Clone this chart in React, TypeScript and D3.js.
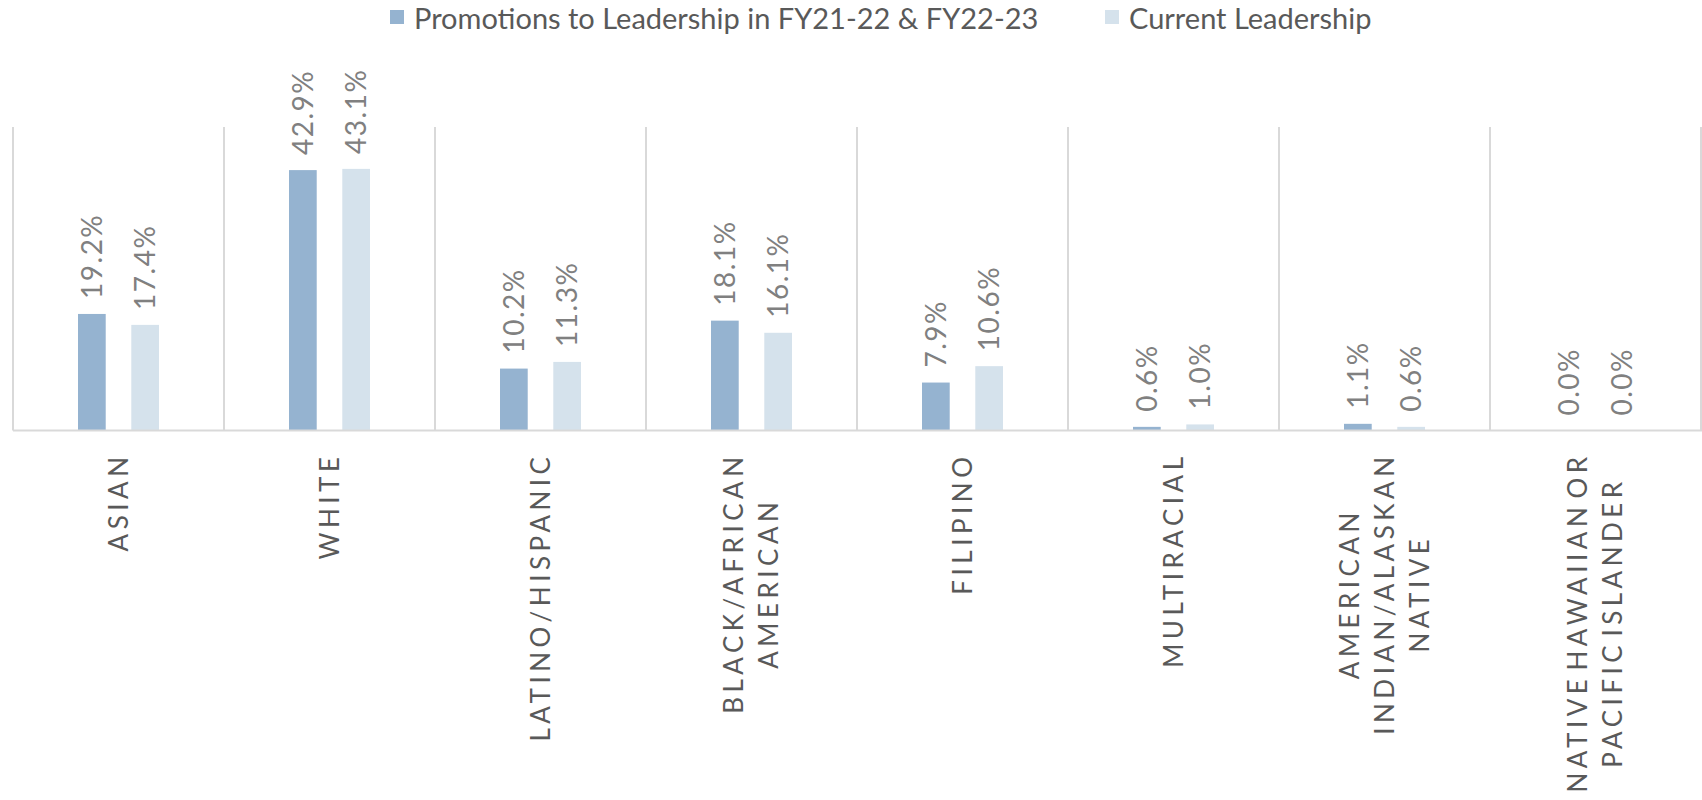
import React, { useEffect, useRef } from 'react';
import * as d3 from 'd3';

const categories = [
  'ASIAN',
  'WHITE',
  'LATINO/HISPANIC',
  'BLACK/AFRICAN\nAMERICAN',
  'FILIPINO',
  'MULTIRACIAL',
  'AMERICAN\nINDIAN/ALASKAN\nNATIVE',
  'NATIVE HAWAIIAN OR\nPACIFIC ISLANDER',
];
const seriesNames = ['Promotions to Leadership in FY21-22 & FY22-23', 'Current Leadership'];
const promotions = [19.2, 42.9, 10.2, 18.1, 7.9, 0.6, 1.1, 0.0];
const current = [17.4, 43.1, 11.3, 16.1, 10.6, 1.0, 0.6, 0.0];
const colors = ['#95b3d0', '#d5e2ec'];

export default function App() {
  const svgRef = useRef<SVGSVGElement>(null);

  useEffect(() => {
    if (!svgRef.current) return;
    const svg = d3.select(svgRef.current);
    svg.selectAll('*').remove();

    const width = 1702;
    const height = 800;
    const left = 13;
    const right = 1701;
    const top = 127;
    const baseline = 430.5;
    const font = 'Lato, "Open Sans", sans-serif';

    const x = d3.scaleBand<number>()
      .domain(d3.range(categories.length))
      .range([left, right]);

    const x1 = d3.scaleBand<number>()
      .domain([0, 1])
      .range([0, x.bandwidth()])
      .paddingInner(0.48)
      .paddingOuter(1.22);

    const y = d3.scaleLinear().domain([0, 50]).range([baseline, top]);

    svg.attr('width', width).attr('height', height);

    // gridlines between categories
    const bounds = d3.range(categories.length + 1).map(i => left + i * x.step());
    svg.append('g')
      .selectAll('line')
      .data(bounds)
      .enter()
      .append('line')
      .attr('x1', d => d)
      .attr('x2', d => d)
      .attr('y1', top)
      .attr('y2', baseline)
      .attr('stroke', '#d9d9d9')
      .attr('stroke-width', 2);

    const series = [promotions, current];

    series.forEach((vals, s) => {
      const g = svg.append('g');
      g.selectAll('rect')
        .data(vals)
        .enter()
        .append('rect')
        .attr('x', (_, i) => (x(i) as number) + (x1(s) as number))
        .attr('width', x1.bandwidth())
        .attr('y', d => y(d))
        .attr('height', d => baseline - y(d))
        .attr('fill', colors[s]);

      g.selectAll('text')
        .data(vals)
        .enter()
        .append('text')
        .attr('transform', (d, i) => {
          const cx = (x(i) as number) + (x1(s) as number) + x1.bandwidth() / 2;
          return `translate(${cx},${y(d) - 15}) rotate(-90)`;
        })
        .attr('dy', '0.36em')
        .attr('font-family', font)
        .attr('font-size', 28)
        .attr('letter-spacing', 1.5)
        .attr('fill', '#808080')
        .text(d => `${d.toFixed(1)}%`);
    });

    // baseline
    svg.append('line')
      .attr('x1', left)
      .attr('x2', width)
      .attr('y1', baseline)
      .attr('y2', baseline)
      .attr('stroke', '#d9d9d9')
      .attr('stroke-width', 2);

    // category labels
    categories.forEach((c, i) => {
      const lines = c.split('\n');
      const cx = (x(i) as number) + x.bandwidth() / 2;
      const g = svg.append('g')
        .attr('transform', `translate(${cx},${baseline + 22}) rotate(-90)`);
      const texts = lines.map((ln, k) =>
        g.append('text')
          .attr('y', (k - (lines.length - 1) / 2) * 35)
          .attr('dy', '0.36em')
          .attr('text-anchor', 'middle')
          .attr('font-family', font)
          .attr('font-size', 26)
          .attr('letter-spacing', 4.5)
          .attr('word-spacing', -7)
          .attr('fill', '#595959')
          .text(ln)
      );
      const maxLen = d3.max(texts, t => (t.node() as SVGTextElement).getComputedTextLength()) || 0;
      texts.forEach(t => t.attr('x', -maxLen / 2));
    });

    // legend
    const legendX = [390, 1105];
    seriesNames.forEach((name, s) => {
      svg.append('rect')
        .attr('x', legendX[s])
        .attr('y', 10)
        .attr('width', 14)
        .attr('height', 14)
        .attr('fill', colors[s]);
      svg.append('text')
        .attr('x', legendX[s] + 24)
        .attr('y', 29)
        .attr('font-family', font)
        .attr('font-size', 29)
        .attr('fill', '#595959')
        .text(name);
    });
  }, []);

  return (
    <svg ref={svgRef} style={{ position: 'absolute', left: 0, top: 0, display: 'block' }} />
  );
}
